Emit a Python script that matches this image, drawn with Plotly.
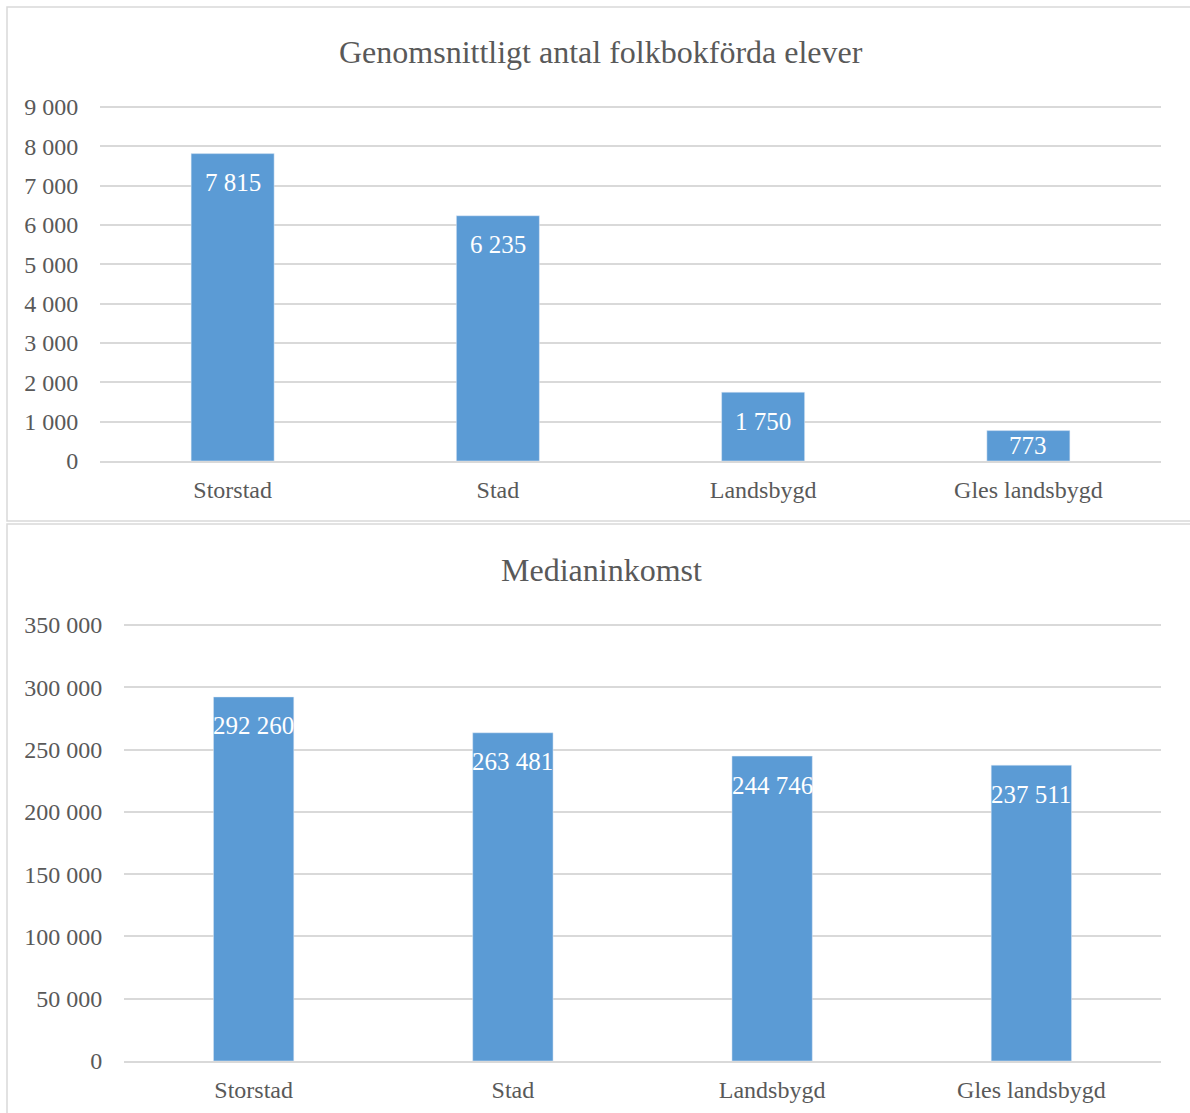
import plotly.graph_objects as go

categories = ["Storstad", "Stad", "Landsbygd", "Gles landsbygd"]
elever = [7815, 6235, 1750, 773]
inkomst = [292260, 263481, 244746, 237511]
title_top = "Genomsnittligt antal folkbokförda elever"
title_bottom = "Medianinkomst"
top_max, top_step = 9000, 1000
bot_max, bot_step = 350000, 50000

W, H = 1190, 1113
FONT = "Liberation Serif, Times New Roman, serif"
GRAY = "#595959"
GRID = "#D9D9D9"
BAR = "#5B9BD5"

def px(v, axis="y"):
    return v / (W if axis == "x" else H)

top_box = dict(x0=100, x1=1161, y0=105, y1=461)
bot_box = dict(x0=124, x1=1161, y0=623, y1=1061)

fig = go.Figure()
fig.add_trace(go.Bar(x=categories, y=elever, marker_color=BAR, width=0.313,
                     xaxis="x", yaxis="y", hoverinfo="skip"))
fig.add_trace(go.Bar(x=categories, y=inkomst, marker_color=BAR, width=0.31,
                     xaxis="x2", yaxis="y2", hoverinfo="skip"))

def fmt(v):
    return f"{v:,}".replace(",", " ")

# a little headroom so the top gridline is drawn (2 px above the top tick)
top_rng = top_max * (461 - 105) / (461 - 107)
bot_rng = bot_max * (1061 - 623) / (1061 - 625)

annotations = []
def add_labels(vals, rng, box, xref, yref):
    plot_h = box["y1"] - box["y0"]
    for c, v in zip(categories, vals):
        h = v / rng * plot_h
        if h > 58:
            annotations.append(dict(x=c, y=v, xref=xref, yref=yref, text=fmt(v),
                                    showarrow=False, yshift=-29, yanchor="middle",
                                    font=dict(family=FONT, size=25, color="white")))
        else:
            annotations.append(dict(x=c, y=v / 2, xref=xref, yref=yref, text=fmt(v),
                                    showarrow=False, yanchor="middle",
                                    font=dict(family=FONT, size=25, color="white")))

add_labels(elever, top_rng, top_box, "x", "y")
add_labels(inkomst, bot_rng, bot_box, "x2", "y2")

annotations.append(dict(x=px(601, "x"), y=1 - px(52), xref="paper", yref="paper",
                        text=title_top, showarrow=False, xanchor="center", yanchor="middle",
                        font=dict(family=FONT, size=32, color=GRAY)))
annotations.append(dict(x=px(601, "x"), y=1 - px(570), xref="paper", yref="paper",
                        text=title_bottom, showarrow=False, xanchor="center", yanchor="middle",
                        font=dict(family=FONT, size=32, color=GRAY)))

def dom(box):
    return ([px(box["x0"], "x"), px(box["x1"], "x")],
            [1 - px(box["y1"]), 1 - px(box["y0"])])

tx, ty = dom(top_box)
bx, by = dom(bot_box)

tick_font = dict(family=FONT, size=24, color=GRAY)
cat_font = dict(family=FONT, size=24, color=GRAY)
xcommon = dict(showgrid=False, zeroline=False, showline=True, linecolor=GRID, linewidth=1.5,
               tickfont=cat_font, ticks="outside", ticklen=6, tickcolor="rgba(0,0,0,0)",
               fixedrange=True, automargin=False)
ycommon = dict(showgrid=True, gridcolor=GRID, gridwidth=1.5, zeroline=False, showline=False,
               tickfont=tick_font, tickformat=",", ticks="outside", ticklen=16,
               tickcolor="rgba(0,0,0,0)", fixedrange=True, automargin=False,
               tickmode="linear", tick0=0)

fig.update_layout(
    width=W, height=H, autosize=False,
    margin=dict(l=0, r=0, t=0, b=0, pad=0, autoexpand=False),
    paper_bgcolor="white", plot_bgcolor="white",
    separators=". ",
    showlegend=False,
    xaxis=dict(domain=tx, anchor="y", **xcommon),
    yaxis=dict(domain=ty, anchor="x", range=[0, top_rng], dtick=top_step, **ycommon),
    xaxis2=dict(domain=bx, anchor="y2", **xcommon),
    yaxis2=dict(domain=by, anchor="x2", range=[0, bot_rng], dtick=bot_step, **ycommon),
    annotations=annotations,
    shapes=[
        dict(type="rect", xref="paper", yref="paper", x0=px(7, "x"), x1=1.05,
             y0=1 - px(521), y1=1 - px(7), line=dict(color=GRID, width=1.5)),
        dict(type="rect", xref="paper", yref="paper", x0=px(7, "x"), x1=1.05,
             y0=-0.05, y1=1 - px(524), line=dict(color=GRID, width=1.5)),
    ],
)

fig.write_html("out.html")
